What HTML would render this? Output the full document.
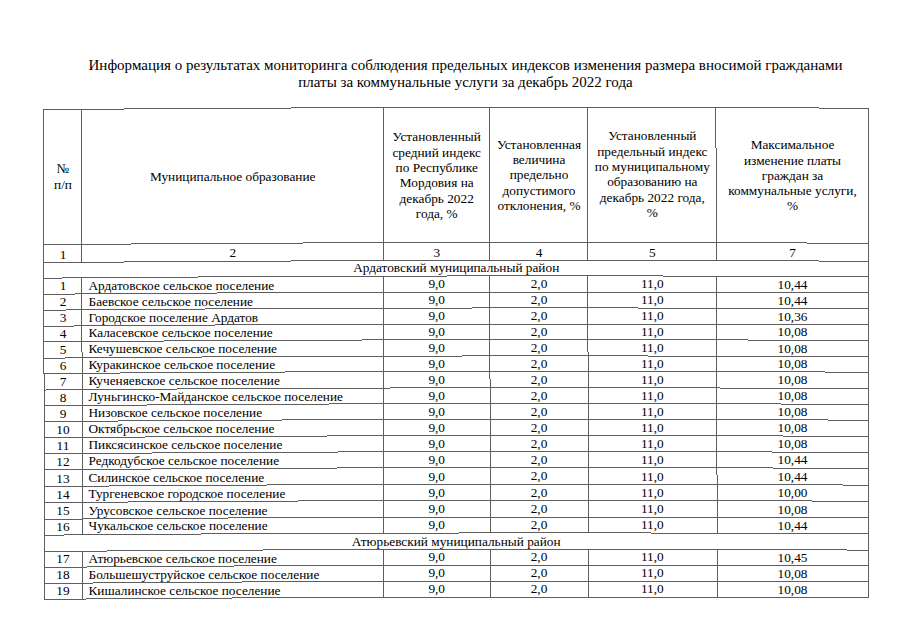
<!DOCTYPE html>
<html><head><meta charset="utf-8"><style>
html,body{margin:0;padding:0;background:#fff;}
body{width:905px;height:640px;position:relative;overflow:hidden;font-family:"Liberation Serif",serif;color:#000;}
.grid{position:absolute;left:0;top:0;}
.t{position:absolute;font-size:13.3px;white-space:nowrap;}
.c{text-align:center;}
.l{text-align:left;}
.title{position:absolute;left:0;width:931px;text-align:center;font-size:15px;line-height:17px;white-space:nowrap;}
</style></head><body>
<svg class="grid" width="905" height="640" viewBox="0 0 905 640"><g fill="#5e5e5e" shape-rendering="crispEdges"><rect x="44" y="109" width="80" height="1"/><rect x="124" y="108" width="167" height="1"/><rect x="291" y="107" width="528" height="1"/><rect x="819" y="108" width="50" height="1"/><rect x="44" y="244" width="87" height="1"/><rect x="131" y="243" width="172" height="1"/><rect x="303" y="242" width="504" height="1"/><rect x="807" y="243" width="62" height="1"/><rect x="44" y="262" width="80" height="1"/><rect x="124" y="261" width="167" height="1"/><rect x="291" y="260" width="528" height="1"/><rect x="819" y="261" width="50" height="1"/><rect x="44" y="278" width="18" height="1"/><rect x="62" y="277" width="136" height="1"/><rect x="198" y="276" width="249" height="1"/><rect x="447" y="275" width="216" height="1"/><rect x="663" y="276" width="206" height="1"/><rect x="44" y="294" width="31" height="1"/><rect x="75" y="293" width="142" height="1"/><rect x="217" y="292" width="652" height="1"/><rect x="44" y="310" width="22" height="1"/><rect x="66" y="309" width="139" height="1"/><rect x="205" y="308" width="267" height="1"/><rect x="472" y="307" width="166" height="1"/><rect x="638" y="308" width="231" height="1"/><rect x="44" y="326" width="30" height="1"/><rect x="74" y="325" width="141" height="1"/><rect x="215" y="324" width="654" height="1"/><rect x="44" y="341" width="120" height="1"/><rect x="164" y="340" width="198" height="1"/><rect x="362" y="339" width="386" height="1"/><rect x="748" y="340" width="121" height="1"/><rect x="44" y="358" width="21" height="1"/><rect x="65" y="357" width="137" height="1"/><rect x="202" y="356" width="260" height="1"/><rect x="462" y="355" width="186" height="1"/><rect x="648" y="356" width="221" height="1"/><rect x="44" y="373" width="76" height="1"/><rect x="120" y="372" width="165" height="1"/><rect x="285" y="371" width="540" height="1"/><rect x="825" y="372" width="44" height="1"/><rect x="44" y="390" width="2" height="1"/><rect x="46" y="389" width="131" height="1"/><rect x="177" y="388" width="213" height="1"/><rect x="390" y="387" width="330" height="1"/><rect x="720" y="388" width="149" height="1"/><rect x="44" y="405" width="103" height="1"/><rect x="147" y="404" width="182" height="1"/><rect x="329" y="403" width="452" height="1"/><rect x="781" y="404" width="88" height="1"/><rect x="44" y="421" width="74" height="1"/><rect x="118" y="420" width="164" height="1"/><rect x="282" y="419" width="546" height="1"/><rect x="828" y="420" width="41" height="1"/><rect x="44" y="437" width="101" height="1"/><rect x="145" y="436" width="182" height="1"/><rect x="327" y="435" width="456" height="1"/><rect x="783" y="436" width="86" height="1"/><rect x="44" y="453" width="108" height="1"/><rect x="152" y="452" width="186" height="1"/><rect x="338" y="451" width="434" height="1"/><rect x="772" y="452" width="97" height="1"/><rect x="44" y="469" width="107" height="1"/><rect x="151" y="468" width="186" height="1"/><rect x="337" y="467" width="436" height="1"/><rect x="773" y="468" width="96" height="1"/><rect x="44" y="486" width="65" height="1"/><rect x="109" y="485" width="158" height="1"/><rect x="267" y="484" width="576" height="1"/><rect x="843" y="485" width="26" height="1"/><rect x="44" y="502" width="84" height="1"/><rect x="128" y="501" width="170" height="1"/><rect x="298" y="500" width="514" height="1"/><rect x="812" y="501" width="57" height="1"/><rect x="44" y="519" width="39" height="1"/><rect x="83" y="518" width="145" height="1"/><rect x="228" y="517" width="641" height="1"/><rect x="44" y="535" width="20" height="1"/><rect x="64" y="534" width="137" height="1"/><rect x="201" y="533" width="258" height="1"/><rect x="459" y="532" width="192" height="1"/><rect x="651" y="533" width="218" height="1"/><rect x="44" y="551" width="63" height="1"/><rect x="107" y="550" width="156" height="1"/><rect x="263" y="549" width="584" height="1"/><rect x="847" y="550" width="22" height="1"/><rect x="44" y="567" width="43" height="1"/><rect x="87" y="566" width="147" height="1"/><rect x="234" y="565" width="635" height="1"/><rect x="44" y="583" width="49" height="1"/><rect x="93" y="582" width="149" height="1"/><rect x="242" y="581" width="626" height="1"/><rect x="868" y="582" width="1" height="1"/><rect x="44" y="599" width="42" height="1"/><rect x="86" y="598" width="146" height="1"/><rect x="232" y="597" width="637" height="1"/><rect x="43" y="109" width="1" height="265"/><rect x="44" y="374" width="1" height="226"/><rect x="868" y="108" width="1" height="490"/><rect x="81" y="109" width="1" height="154"/><rect x="81" y="277" width="1" height="75"/><rect x="82" y="352" width="1" height="183"/><rect x="82" y="551" width="1" height="49"/><rect x="383" y="107" width="1" height="154"/><rect x="383" y="276" width="1" height="258"/><rect x="383" y="549" width="1" height="49"/><rect x="489" y="107" width="1" height="154"/><rect x="489" y="275" width="1" height="104"/><rect x="490" y="379" width="1" height="154"/><rect x="490" y="549" width="1" height="49"/><rect x="587" y="107" width="1" height="154"/><rect x="587" y="275" width="1" height="77"/><rect x="588" y="352" width="1" height="181"/><rect x="588" y="549" width="1" height="49"/><rect x="715" y="107" width="1" height="41"/><rect x="716" y="148" width="1" height="113"/><rect x="716" y="276" width="1" height="199"/><rect x="717" y="475" width="1" height="59"/><rect x="717" y="549" width="1" height="49"/></g></svg>
<div class="title" style="top:57px">Информация о результатах мониторинга соблюдения предельных индексов изменения размера вносимой гражданами</div>
<div class="title" style="top:74.0px">платы за коммунальные услуги за декабрь 2022 года</div>
<div class="t c" style="left:44.00px;width:38.00px;top:161.26px;line-height:15.3px;">№<br>п/п</div>
<div class="t c" style="left:82.00px;width:301.45px;top:168.51px;line-height:16px;">Муниципальное образование</div>
<div class="t c" style="left:383.45px;width:106.55px;top:129.46px;line-height:15.3px;">Установленный<br>средний индекс<br>по Республике<br>Мордовия на<br>декабрь 2022<br>года, %</div>
<div class="t c" style="left:490.00px;width:98.00px;top:136.76px;line-height:15.3px;">Установленная<br>величина<br>предельно<br>допустимого<br>отклонения, %</div>
<div class="t c" style="left:588.00px;width:128.60px;top:128.36px;line-height:15.3px;">Установленный<br>предельный индекс<br>по муниципальному<br>образованию на<br>декабрь 2022 года,<br>%</div>
<div class="t c" style="left:716.60px;width:151.85px;top:137.26px;line-height:15.3px;">Максимальное<br>изменение платы<br>граждан за<br>коммунальные услуги,<br>%</div>
<div class="t c" style="left:44.00px;width:38.00px;top:246.64px;line-height:16px;">1</div>
<div class="t c" style="left:82.00px;width:301.45px;top:245.45px;line-height:16px;">2</div>
<div class="t c" style="left:383.45px;width:106.55px;top:244.67px;line-height:16px;">3</div>
<div class="t c" style="left:490.00px;width:98.00px;top:244.55px;line-height:16px;">4</div>
<div class="t c" style="left:588.00px;width:128.60px;top:244.63px;line-height:16px;">5</div>
<div class="t c" style="left:716.60px;width:151.85px;top:245.04px;line-height:16px;">7</div>
<div class="t c" style="left:44.00px;width:824.45px;top:260.14px;line-height:16px;">Ардатовский муниципальный район</div>
<div class="t c" style="left:44.00px;width:38.00px;top:278.25px;line-height:16px;">1</div>
<div class="t l" style="left:88.50px;width:294.95px;top:277.58px;line-height:16px;">Ардатовское сельское поселение</div>
<div class="t c" style="left:383.45px;width:106.55px;top:276.29px;line-height:16px;">9,0</div>
<div class="t c" style="left:490.00px;width:98.00px;top:276.17px;line-height:16px;">2,0</div>
<div class="t c" style="left:588.00px;width:128.60px;top:276.25px;line-height:16px;">11,0</div>
<div class="t c" style="left:716.60px;width:151.85px;top:276.65px;line-height:16px;">10,44</div>
<div class="t c" style="left:44.00px;width:38.00px;top:294.18px;line-height:16px;">2</div>
<div class="t l" style="left:88.50px;width:294.95px;top:293.51px;line-height:16px;">Баевское сельское поселение</div>
<div class="t c" style="left:383.45px;width:106.55px;top:292.21px;line-height:16px;">9,0</div>
<div class="t c" style="left:490.00px;width:98.00px;top:292.09px;line-height:16px;">2,0</div>
<div class="t c" style="left:588.00px;width:128.60px;top:292.17px;line-height:16px;">11,0</div>
<div class="t c" style="left:716.60px;width:151.85px;top:292.58px;line-height:16px;">10,44</div>
<div class="t c" style="left:44.00px;width:38.00px;top:310.24px;line-height:16px;">3</div>
<div class="t l" style="left:88.50px;width:294.95px;top:309.57px;line-height:16px;">Городское поселение Ардатов</div>
<div class="t c" style="left:383.45px;width:106.55px;top:308.28px;line-height:16px;">9,0</div>
<div class="t c" style="left:490.00px;width:98.00px;top:308.16px;line-height:16px;">2,0</div>
<div class="t c" style="left:588.00px;width:128.60px;top:308.24px;line-height:16px;">11,0</div>
<div class="t c" style="left:716.60px;width:151.85px;top:308.64px;line-height:16px;">10,36</div>
<div class="t c" style="left:44.00px;width:38.00px;top:325.92px;line-height:16px;">4</div>
<div class="t l" style="left:88.50px;width:294.95px;top:325.25px;line-height:16px;">Каласевское сельское поселение</div>
<div class="t c" style="left:383.45px;width:106.55px;top:323.95px;line-height:16px;">9,0</div>
<div class="t c" style="left:490.00px;width:98.00px;top:323.83px;line-height:16px;">2,0</div>
<div class="t c" style="left:588.00px;width:128.60px;top:323.91px;line-height:16px;">11,0</div>
<div class="t c" style="left:716.60px;width:151.85px;top:324.32px;line-height:16px;">10,08</div>
<div class="t c" style="left:44.00px;width:38.00px;top:342.16px;line-height:16px;">5</div>
<div class="t l" style="left:88.50px;width:294.95px;top:341.49px;line-height:16px;">Кечушевское сельское поселение</div>
<div class="t c" style="left:383.45px;width:106.55px;top:340.20px;line-height:16px;">9,0</div>
<div class="t c" style="left:490.00px;width:98.00px;top:340.08px;line-height:16px;">2,0</div>
<div class="t c" style="left:588.00px;width:128.60px;top:340.16px;line-height:16px;">11,0</div>
<div class="t c" style="left:716.60px;width:151.85px;top:340.56px;line-height:16px;">10,08</div>
<div class="t c" style="left:44.00px;width:38.00px;top:357.61px;line-height:16px;">6</div>
<div class="t l" style="left:88.50px;width:294.95px;top:356.94px;line-height:16px;">Куракинское сельское поселение</div>
<div class="t c" style="left:383.45px;width:106.55px;top:355.64px;line-height:16px;">9,0</div>
<div class="t c" style="left:490.00px;width:98.00px;top:355.52px;line-height:16px;">2,0</div>
<div class="t c" style="left:588.00px;width:128.60px;top:355.60px;line-height:16px;">11,0</div>
<div class="t c" style="left:716.60px;width:151.85px;top:356.01px;line-height:16px;">10,08</div>
<div class="t c" style="left:44.00px;width:38.00px;top:374.00px;line-height:16px;">7</div>
<div class="t l" style="left:88.50px;width:294.95px;top:373.33px;line-height:16px;">Кученяевское сельское поселение</div>
<div class="t c" style="left:383.45px;width:106.55px;top:372.04px;line-height:16px;">9,0</div>
<div class="t c" style="left:490.00px;width:98.00px;top:371.92px;line-height:16px;">2,0</div>
<div class="t c" style="left:588.00px;width:128.60px;top:372.00px;line-height:16px;">11,0</div>
<div class="t c" style="left:716.60px;width:151.85px;top:372.40px;line-height:16px;">10,08</div>
<div class="t c" style="left:44.00px;width:38.00px;top:389.80px;line-height:16px;">8</div>
<div class="t l" style="left:88.50px;width:294.95px;top:389.13px;line-height:16px;">Луньгинско-Майданское сельское поселение</div>
<div class="t c" style="left:383.45px;width:106.55px;top:387.83px;line-height:16px;">9,0</div>
<div class="t c" style="left:490.00px;width:98.00px;top:387.71px;line-height:16px;">2,0</div>
<div class="t c" style="left:588.00px;width:128.60px;top:387.79px;line-height:16px;">11,0</div>
<div class="t c" style="left:716.60px;width:151.85px;top:388.20px;line-height:16px;">10,08</div>
<div class="t c" style="left:44.00px;width:38.00px;top:405.59px;line-height:16px;">9</div>
<div class="t l" style="left:88.50px;width:294.95px;top:404.92px;line-height:16px;">Низовское сельское поселение</div>
<div class="t c" style="left:383.45px;width:106.55px;top:403.63px;line-height:16px;">9,0</div>
<div class="t c" style="left:490.00px;width:98.00px;top:403.51px;line-height:16px;">2,0</div>
<div class="t c" style="left:588.00px;width:128.60px;top:403.59px;line-height:16px;">11,0</div>
<div class="t c" style="left:716.60px;width:151.85px;top:403.99px;line-height:16px;">10,08</div>
<div class="t c" style="left:44.00px;width:38.00px;top:421.79px;line-height:16px;">10</div>
<div class="t l" style="left:88.50px;width:294.95px;top:421.12px;line-height:16px;">Октябрьское сельское поселение</div>
<div class="t c" style="left:383.45px;width:106.55px;top:419.82px;line-height:16px;">9,0</div>
<div class="t c" style="left:490.00px;width:98.00px;top:419.70px;line-height:16px;">2,0</div>
<div class="t c" style="left:588.00px;width:128.60px;top:419.78px;line-height:16px;">11,0</div>
<div class="t c" style="left:716.60px;width:151.85px;top:420.19px;line-height:16px;">10,08</div>
<div class="t c" style="left:44.00px;width:38.00px;top:437.83px;line-height:16px;">11</div>
<div class="t l" style="left:88.50px;width:294.95px;top:437.16px;line-height:16px;">Пиксясинское сельское поселение</div>
<div class="t c" style="left:383.45px;width:106.55px;top:435.87px;line-height:16px;">9,0</div>
<div class="t c" style="left:490.00px;width:98.00px;top:435.75px;line-height:16px;">2,0</div>
<div class="t c" style="left:588.00px;width:128.60px;top:435.83px;line-height:16px;">11,0</div>
<div class="t c" style="left:716.60px;width:151.85px;top:436.23px;line-height:16px;">10,08</div>
<div class="t c" style="left:44.00px;width:38.00px;top:453.83px;line-height:16px;">12</div>
<div class="t l" style="left:88.50px;width:294.95px;top:453.16px;line-height:16px;">Редкодубское сельское поселение</div>
<div class="t c" style="left:383.45px;width:106.55px;top:451.86px;line-height:16px;">9,0</div>
<div class="t c" style="left:490.00px;width:98.00px;top:451.74px;line-height:16px;">2,0</div>
<div class="t c" style="left:588.00px;width:128.60px;top:451.82px;line-height:16px;">11,0</div>
<div class="t c" style="left:716.60px;width:151.85px;top:452.23px;line-height:16px;">10,44</div>
<div class="t c" style="left:44.00px;width:38.00px;top:470.52px;line-height:16px;">13</div>
<div class="t l" style="left:88.50px;width:294.95px;top:469.85px;line-height:16px;">Силинское сельское поселение</div>
<div class="t c" style="left:383.45px;width:106.55px;top:468.56px;line-height:16px;">9,0</div>
<div class="t c" style="left:490.00px;width:98.00px;top:468.44px;line-height:16px;">2,0</div>
<div class="t c" style="left:588.00px;width:128.60px;top:468.52px;line-height:16px;">11,0</div>
<div class="t c" style="left:716.60px;width:151.85px;top:468.92px;line-height:16px;">10,44</div>
<div class="t c" style="left:44.00px;width:38.00px;top:486.67px;line-height:16px;">14</div>
<div class="t l" style="left:88.50px;width:294.95px;top:486.00px;line-height:16px;">Тургеневское городское поселение</div>
<div class="t c" style="left:383.45px;width:106.55px;top:484.70px;line-height:16px;">9,0</div>
<div class="t c" style="left:490.00px;width:98.00px;top:484.58px;line-height:16px;">2,0</div>
<div class="t c" style="left:588.00px;width:128.60px;top:484.66px;line-height:16px;">11,0</div>
<div class="t c" style="left:716.60px;width:151.85px;top:485.07px;line-height:16px;">10,00</div>
<div class="t c" style="left:44.00px;width:38.00px;top:503.31px;line-height:16px;">15</div>
<div class="t l" style="left:88.50px;width:294.95px;top:502.64px;line-height:16px;">Урусовское сельское поселение</div>
<div class="t c" style="left:383.45px;width:106.55px;top:501.35px;line-height:16px;">9,0</div>
<div class="t c" style="left:490.00px;width:98.00px;top:501.23px;line-height:16px;">2,0</div>
<div class="t c" style="left:588.00px;width:128.60px;top:501.31px;line-height:16px;">11,0</div>
<div class="t c" style="left:716.60px;width:151.85px;top:501.71px;line-height:16px;">10,08</div>
<div class="t c" style="left:44.00px;width:38.00px;top:519.16px;line-height:16px;">16</div>
<div class="t l" style="left:88.50px;width:294.95px;top:518.49px;line-height:16px;">Чукальское сельское поселение</div>
<div class="t c" style="left:383.45px;width:106.55px;top:517.19px;line-height:16px;">9,0</div>
<div class="t c" style="left:490.00px;width:98.00px;top:517.07px;line-height:16px;">2,0</div>
<div class="t c" style="left:588.00px;width:128.60px;top:517.15px;line-height:16px;">11,0</div>
<div class="t c" style="left:716.60px;width:151.85px;top:517.56px;line-height:16px;">10,44</div>
<div class="t c" style="left:44.00px;width:824.45px;top:533.50px;line-height:16px;">Атюрьевский муниципальный район</div>
<div class="t c" style="left:44.00px;width:38.00px;top:551.35px;line-height:16px;">17</div>
<div class="t l" style="left:88.50px;width:294.95px;top:550.68px;line-height:16px;">Атюрьевское сельское поселение</div>
<div class="t c" style="left:383.45px;width:106.55px;top:549.38px;line-height:16px;">9,0</div>
<div class="t c" style="left:490.00px;width:98.00px;top:549.26px;line-height:16px;">2,0</div>
<div class="t c" style="left:588.00px;width:128.60px;top:549.34px;line-height:16px;">11,0</div>
<div class="t c" style="left:716.60px;width:151.85px;top:549.75px;line-height:16px;">10,45</div>
<div class="t c" style="left:44.00px;width:38.00px;top:567.39px;line-height:16px;">18</div>
<div class="t l" style="left:88.50px;width:294.95px;top:566.72px;line-height:16px;">Большешуструйское сельское поселение</div>
<div class="t c" style="left:383.45px;width:106.55px;top:565.43px;line-height:16px;">9,0</div>
<div class="t c" style="left:490.00px;width:98.00px;top:565.31px;line-height:16px;">2,0</div>
<div class="t c" style="left:588.00px;width:128.60px;top:565.39px;line-height:16px;">11,0</div>
<div class="t c" style="left:716.60px;width:151.85px;top:565.79px;line-height:16px;">10,08</div>
<div class="t c" style="left:44.00px;width:38.00px;top:583.34px;line-height:16px;">19</div>
<div class="t l" style="left:88.50px;width:294.95px;top:582.67px;line-height:16px;">Кишалинское сельское поселение</div>
<div class="t c" style="left:383.45px;width:106.55px;top:581.37px;line-height:16px;">9,0</div>
<div class="t c" style="left:490.00px;width:98.00px;top:581.25px;line-height:16px;">2,0</div>
<div class="t c" style="left:588.00px;width:128.60px;top:581.33px;line-height:16px;">11,0</div>
<div class="t c" style="left:716.60px;width:151.85px;top:581.74px;line-height:16px;">10,08</div>
</body></html>
